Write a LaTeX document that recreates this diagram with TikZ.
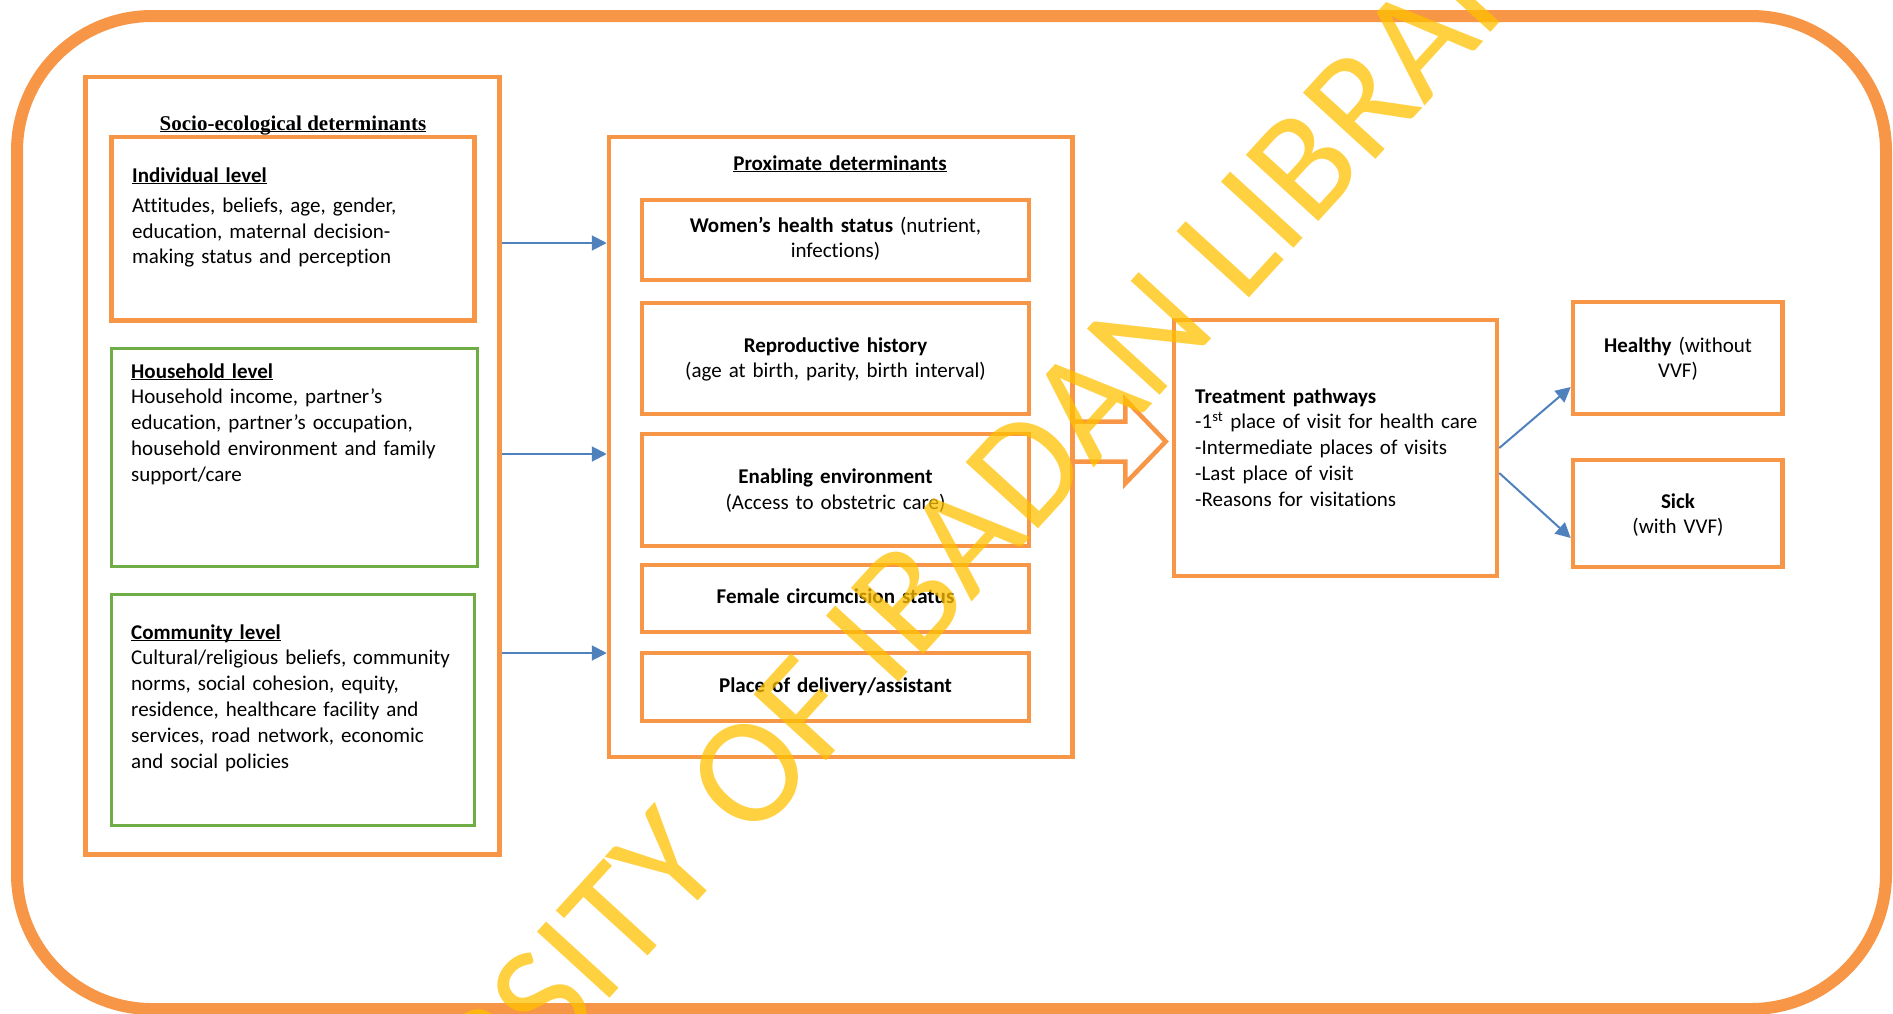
\documentclass[tikz,border=0pt]{standalone}
\usepackage{fontspec}
\setmainfont{Carlito}[Ligatures={TeX,NoCommon}]
\newfontfamily\serifhead{Liberation Serif}
\newfontfamily\markfont{Carlito}[Ligatures=NoCommon]
\usetikzlibrary{arrows.meta,calc}

\definecolor{boxorange}{HTML}{F79646}
\definecolor{boxgreen}{HTML}{70AD47}
\definecolor{linkblue}{HTML}{4F81BD}
\definecolor{markyellow}{HTML}{FFC000}

\newcommand\bodysize{\fontsize{21}{25.8}\selectfont}
\newcommand\ulbox[1]{\underline{\smash{#1}}}

\begin{document}
\begin{tikzpicture}[x=1pt,y=-1pt,
  frame/.style={draw=boxorange, line width=12pt, rounded corners=135pt},
  obox/.style={draw=boxorange, line width=4.5pt, inner sep=0pt},
  gbox/.style={draw=boxgreen, line width=3pt, inner sep=0pt},
  lefttext/.style={inner sep=0pt, text width=340pt, align=left, anchor=base west, font=\bodysize},
  midtext/.style={inner sep=0pt, text width=400pt, align=center, anchor=base, font=\bodysize},
  link/.style={draw=linkblue, line width=2pt, -{Triangle[length=15pt,width=15pt]}},
  fatarrow/.style={draw=boxorange, line width=4.5pt, line join=miter},
  wmark/.style={font=\markfont\fontsize{153}{153}\selectfont, text=markyellow, text opacity=0.75, inner sep=0pt}
]
\useasboundingbox (0,0) rectangle (1893,1013);

% outer frame
\draw[frame] (17,16) rectangle (1886,1009);

% socio-ecological column
\node[obox, minimum width=414pt, minimum height=777.5pt] (soc) at (292.5,465.75) {};
\node[inner sep=0pt, anchor=base, font=\serifhead\bfseries\fontsize{21}{25}\selectfont] (soctitle) at (293,130) {\ulbox{Socio-ecological determinants}};

\node[obox, minimum width=363pt, minimum height=183.5pt] (ind) at (293,228.75) {};
\node[lefttext] (indtext) at (132,182) {\ulbox{\textbf{Individual level}}\\[4.4pt]
  Attitudes, beliefs, age, gender,\\
  education, maternal decision-\\
  making status and perception};

\node[gbox, minimum width=366pt, minimum height=218.5pt] (hh) at (294,457.25) {};
\node[lefttext] (hhtext) at (131,378) {\ulbox{\textbf{Household level}}\\
  Household income, partner’s\\
  education, partner’s occupation,\\
  household environment and family\\
  support/care};

\node[gbox, minimum width=363.5pt, minimum height=231pt] (com) at (292.75,710) {};
\node[lefttext] (comtext) at (131,639) {\ulbox{\textbf{Community level}}\\
  Cultural/religious beliefs, community\\
  norms, social cohesion, equity,\\
  residence, healthcare facility and\\
  services, road network, economic\\
  and social policies};

% proximate determinants column
\node[obox, minimum width=463.5pt, minimum height=620pt] (prox) at (840.75,447) {};
\node[midtext] (proxtitle) at (840,170) {\ulbox{\textbf{Proximate determinants}}};

\node[obox, minimum width=387pt, minimum height=80pt] (wom) at (835.5,240) {};
\node[midtext] (womtext) at (835.5,232) {\textbf{Women’s health status} (nutrient,\\ infections)};

\node[obox, minimum width=387pt, minimum height=111pt] (rep) at (835.5,358.5) {};
\node[midtext] (reptext) at (835.5,352) {\textbf{Reproductive history}\\ (age at birth, parity, birth interval)};

\node[obox, minimum width=387pt, minimum height=112pt] (ena) at (835.5,490) {};
\node[midtext] (enatext) at (835.5,483) {\textbf{Enabling environment}\\[1pt] (Access to obstetric care)};

\node[obox, minimum width=387pt, minimum height=67pt] (fem) at (835.5,598.5) {};
\node[midtext] (femtext) at (835.5,603) {\textbf{Female circumcision status}};

\node[obox, minimum width=387pt, minimum height=68pt] (pla) at (835.5,687) {};
\node[midtext] (platext) at (835.5,692) {\textbf{Place of delivery/assistant}};

% treatment pathways and outcomes
\node[obox, minimum width=323pt, minimum height=256pt] (trt) at (1335.5,448) {};
\node[lefttext] (trttext) at (1195,403) {\textbf{Treatment pathways}\\
  -1\textsuperscript{st} place of visit for health care\\
  -Intermediate places of visits\\
  -Last place of visit\\
  -Reasons for visitations};

\node[obox, minimum width=209.5pt, minimum height=112pt] (hea) at (1677.75,358) {};
\node[midtext] (heatext) at (1678,352) {\textbf{Healthy} (without\\ VVF)};

\node[obox, minimum width=209.5pt, minimum height=107pt] (sic) at (1677.75,513.5) {};
\node[midtext] (sictext) at (1678,508) {\textbf{Sick}\\ (with VVF)};

% connectors
\coordinate (y1) at (0,243);
\coordinate (y2) at (0,454);
\coordinate (y3) at (0,653);
\draw[link] (soc.east |- y1) -- (prox.west |- y1);
\draw[link] (soc.east |- y2) -- (prox.west |- y2);
\draw[link] (soc.east |- y3) -- (prox.west |- y3);

\coordinate (ya) at (0,448);
\coordinate (yb) at (0,387);
\coordinate (yc) at (0,473);
\coordinate (yd) at (0,538);
\draw[link] (trt.east |- ya) -- (hea.west |- yb);
\draw[link] (trt.east |- yc) -- (sic.west |- yd);

% hollow block arrow from proximate determinants to treatment
\coordinate (fy) at (0,441.5);
\coordinate (ftip) at ($(trt.west |- fy)+(-6,0)$);
\draw[fatarrow] ($(prox.east |- fy)+(0,-20)$) -- ($(ftip)+(-40.5,-20)$) -- ($(ftip)+(-40.5,-42)$)
  -- (ftip) -- ($(ftip)+(-40.5,42)$) -- ($(ftip)+(-40.5,20)$) -- ($(prox.east |- fy)+(0,20)$);

% library watermark
\node[wmark, rotate=47.6] (wm) at (874,636) {UNIVERSITY OF IBADAN LIBRARY};
\end{tikzpicture}
\end{document}
